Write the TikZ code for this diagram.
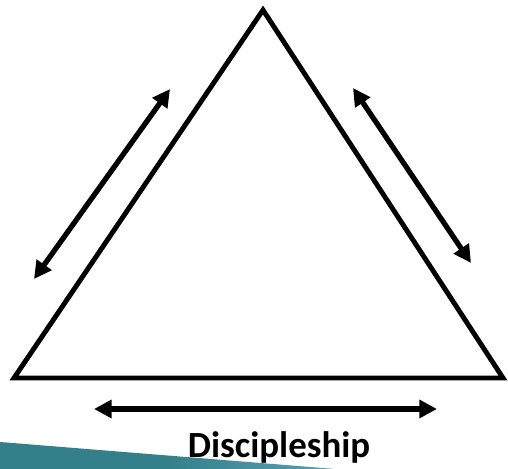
\documentclass[tikz,border=0pt]{standalone}
\usepackage{fontspec}
\setmainfont{Carlito}
\usetikzlibrary{arrows.meta, positioning, calc}

\definecolor{bandteal}{RGB}{52,128,138}
\definecolor{bandblue}{RGB}{88,160,182}

\begin{document}
\begin{tikzpicture}[
      x=0.02cm, y=-0.02cm,
      triside/.style={line width=2.8pt, line join=miter},
      link/.style={line width=3pt, {Triangle[length=10pt,width=10pt]}-{Triangle[length=10pt,width=10pt]}},
      captext/.style={font=\bfseries\fontsize{21}{25}\selectfont, inner sep=0pt}
    ]
    \useasboundingbox (0,0) rectangle (508,469);

    % band at the bottom
    \shade[left color=bandteal, right color=bandblue, middle color=bandteal] (0,442) -- (335,469) -- (0,469) -- cycle;

    \coordinate (top) at (263,10);
    \coordinate (left) at (14,378);
    \coordinate (right) at (503,378);
    \draw[triside] (top) -- (left) -- (right) -- cycle;

    \coordinate (la) at (170,89);
    \coordinate (lb) at (34,279);
    \coordinate (ra) at (353,88);
    \coordinate (rb) at (471,263);
    \coordinate (ba) at (94,409);
    \coordinate (bb) at (437,409);

    \draw[link] (la) -- (lb);
    \draw[link] (ra) -- (rb);
    \draw[link] (ba) -- (bb);

    \node[captext, anchor=base] (disc) at (279,458) {Discipleship};
  \end{tikzpicture}
\end{document}
